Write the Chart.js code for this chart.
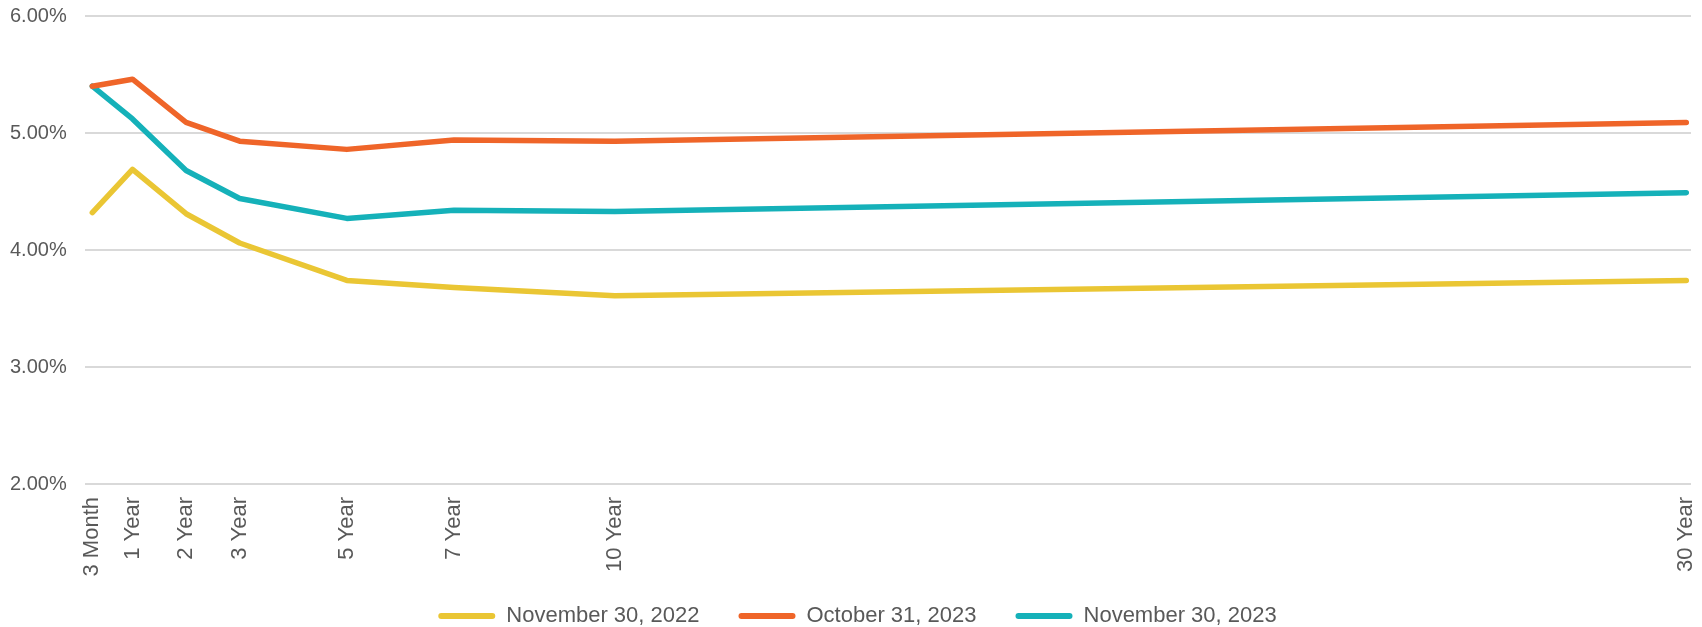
<!DOCTYPE html>
<html>
<head>
<meta charset="utf-8">
<script src="https://cdn.jsdelivr.net/npm/chart.js@4/dist/chart.umd.min.js"></script>
<style>
  html, body { margin: 0; padding: 0; background: #ffffff; }
  #wrap { width: 1702px; height: 627px; position: relative; }
</style>
</head>
<body>
<div id="wrap"><canvas id="curve"></canvas></div>
<script>
// Treasury maturities (in years) and their axis labels
const maturities = [0.25, 1, 2, 3, 5, 7, 10, 30];
const maturityLabels = ['3 Month', '1 Year', '2 Year', '3 Year', '5 Year', '7 Year', '10 Year', '30 Year'];

// Yields (%) by maturity
const nov2022 = [4.32, 4.69, 4.31, 4.06, 3.74, 3.68, 3.61, 3.74];
const oct2023 = [5.40, 5.46, 5.09, 4.93, 4.86, 4.94, 4.93, 5.09];
const nov2023 = [5.40, 5.12, 4.68, 4.44, 4.27, 4.34, 4.33, 4.49];

// Y-axis range (%)
const yMin = 2, yMax = 6, yStep = 1;

const seriesNames = ['November 30, 2022', 'October 31, 2023', 'November 30, 2023'];
const seriesColors = ['#EAC634', '#EF6529', '#15B1B9'];
const seriesValues = [nov2022, oct2023, nov2023];

const textColor = '#595959';
const fontFamily = '"Liberation Sans", Arial, Helvetica, sans-serif';

const datasets = seriesValues.map((vals, i) => ({
  label: seriesNames[i],
  data: vals.map((v, j) => ({ x: maturities[j], y: v })),
  borderColor: seriesColors[i],
  backgroundColor: seriesColors[i],
  borderWidth: 5.5,
  borderCapStyle: 'round',
  borderJoinStyle: 'round',
  pointRadius: 0,
  pointHoverRadius: 0,
  tension: 0,
  fill: false
}));

// Legend band: compact height, row centred 11px above the canvas bottom,
// nudged right a little
const legendBand = {
  id: 'legendBand',
  beforeLayout(chart) {
    const lg = chart.legend;
    if (lg && !lg._bandFit) {
      const fit = lg.fit;
      lg.fit = function () { fit.call(this); this.height = 48; };
      lg._bandFit = true;
    }
  },
  afterLayout(chart) {
    const lg = chart.legend;
    if (!lg) return;
    const pad = lg.options.labels.padding;
    const size = lg.options.labels.font.size;
    lg.top = chart.height - 11 - size / 2 - pad;
    lg.bottom = chart.height;
    lg.left += 16;
    lg.right += 16;
  }
};

new Chart(document.getElementById('curve'), {
  type: 'line',
  data: { datasets },
  plugins: [legendBand],
  options: {
    responsive: true,
    maintainAspectRatio: false,
    animation: false,
    layout: { autoPadding: false, padding: { left: -8, right: 11, top: 16, bottom: 0 } },
    plugins: {
      tooltip: { enabled: false },
      legend: {
        position: 'bottom',
        labels: {
          color: textColor,
          font: { family: fontFamily, size: 22 },
          boxWidth: 57,
          boxHeight: 6,
          useBorderRadius: true,
          borderRadius: 3,
          padding: 39,
          generateLabels(chart) {
            return chart.data.datasets.map((ds, i) => ({
              text: ds.label,
              fillStyle: ds.borderColor,
              strokeStyle: ds.borderColor,
              lineWidth: 0,
              fontColor: textColor,
              hidden: false,
              datasetIndex: i,
              borderRadius: 3
            }));
          }
        }
      }
    },
    scales: {
      x: {
        type: 'linear',
        min: 0.108,
        max: 30.088,
        offset: false,
        grid: { display: false, drawTicks: false },
        border: { display: false },
        afterBuildTicks(axis) {
          axis.ticks = maturities.map(v => ({ value: v }));
        },
        afterFit(axis) {
          axis.height = 95;
          axis.paddingLeft = 0;
          axis.paddingRight = 0;
        },
        ticks: {
          autoSkip: false,
          minRotation: 90,
          maxRotation: 90,
          padding: 13,
          color: textColor,
          font: { family: fontFamily, size: 22 },
          callback(value) {
            const idx = maturities.indexOf(value);
            return idx >= 0 ? maturityLabels[idx] : '';
          }
        }
      },
      y: {
        min: yMin,
        max: yMax,
        grid: { color: '#d9d9d9', lineWidth: 2, drawTicks: false },
        border: { display: false },
        afterFit(axis) {
          axis.paddingTop = 0;
          axis.paddingBottom = 0;
        },
        ticks: {
          stepSize: yStep,
          padding: 18,
          color: textColor,
          font: { family: fontFamily, size: 20 },
          callback: v => v.toFixed(2) + '%'
        }
      }
    }
  }
});
</script>
</body>
</html>
